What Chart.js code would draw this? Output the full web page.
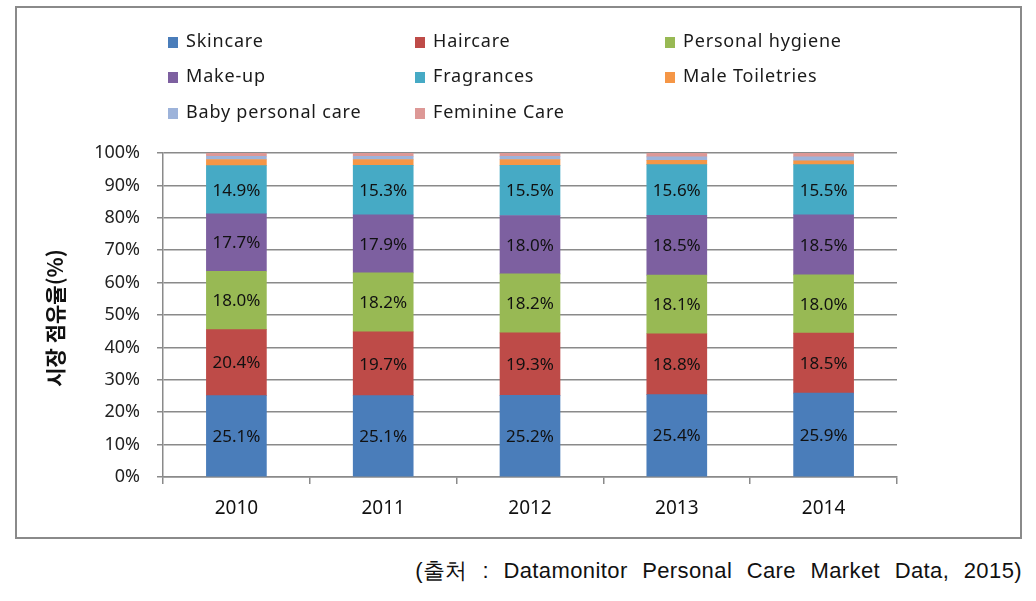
<!DOCTYPE html>
<html>
<head>
<meta charset="utf-8">
<script src="https://cdn.jsdelivr.net/npm/chart.js@4.4.1/dist/chart.umd.min.js"></script>
<style>
    body { margin: 0; background: #fff; }
    #box {
        position: absolute; left: 15px; top: 6px;
        width: 1003px; height: 529px;
        border: 2px solid #8a8a8a;
    }
    #source {
        position: absolute; right: 14px; top: 556px;
        font-family: "Liberation Sans", sans-serif; font-size: 22px; color: #111;
        word-spacing: 8px; letter-spacing: 0.4px;
    }
</style>
</head>
<body>
<div id="box"><canvas id="chart" width="1003" height="529"></canvas></div>
<div id="source">(출처 : Datamonitor Personal Care Market Data, 2015)</div>
<script>
// values, percent share per year
const years = ['2010', '2011', '2012', '2013', '2014'];
const skincare = [25.1, 25.1, 25.2, 25.4, 25.9];
const haircare = [20.4, 19.7, 19.3, 18.8, 18.5];
const hygiene = [18.0, 18.2, 18.2, 18.1, 18.0];
const makeup = [17.7, 17.9, 18.0, 18.5, 18.5];
const fragrances = [14.9, 15.3, 15.5, 15.6, 15.5];
const maleToiletries = [1.9, 1.8, 1.8, 1.3, 1.2];
const babyCare = [1.0, 1.0, 1.0, 1.1, 1.2];
const feminineCare = [1.0, 1.0, 1.0, 1.2, 1.2];
const yTicks = [0, 10, 20, 30, 40, 50, 60, 70, 80, 90, 100];

const FONT = "'Noto Sans', sans-serif";

function series(label, data, color, showLabel) {
    return {
        label: label,
        data: data,
        backgroundColor: color,
        borderWidth: 0,
        showLabel: showLabel,
        barThickness: 60
    };
}

// values inside the segments + custom 3-column legend + y title
const extras = {
    id: 'extras',
    afterDatasetsDraw(chart) {
        const ctx = chart.ctx;
        ctx.save();
        ctx.font = '17px ' + FONT;
        ctx.fillStyle = '#111';
        ctx.textAlign = 'center';
        ctx.textBaseline = 'middle';
        chart.data.datasets.forEach((ds, i) => {
            if (!ds.showLabel) return;
            chart.getDatasetMeta(i).data.forEach((bar, j) => {
                ctx.fillText(ds.data[j].toFixed(1) + '%', bar.x, (bar.y + bar.base) / 2 + 1);
            });
        });
        ctx.restore();
    },
    afterDraw(chart) {
        const ctx = chart.ctx;
        ctx.save();
        const cols = [151, 398, 648];
        const rows = [34, 69, 105];
        ctx.font = '18px ' + FONT;
        ctx.letterSpacing = '0.8px';
        ctx.textBaseline = 'middle';
        ctx.textAlign = 'left';
        chart.data.datasets.forEach((ds, i) => {
            const x = cols[i % 3];
            const y = rows[Math.floor(i / 3)];
            ctx.fillStyle = ds.backgroundColor;
            ctx.fillRect(x, y - 5, 10, 11);
            ctx.fillStyle = '#1a1a1a';
            ctx.fillText(ds.label, x + 18, y);
        });
        ctx.letterSpacing = '0px';
        // y axis title
        ctx.translate(38, 310);
        ctx.rotate(-Math.PI / 2);
        ctx.textAlign = 'center';
        ctx.font = "bold 21px 'Noto Sans CJK KR', sans-serif";
        ctx.fillStyle = '#111';
        ctx.fillText('시장 점유율(%)', 0, 0);
        ctx.restore();
    }
};

new Chart('chart', {
    type: 'bar',
    data: {
        labels: years,
        datasets: [
            series('Skincare', skincare, '#4a7dba', true),
            series('Haircare', haircare, '#be4b48', true),
            series('Personal hygiene', hygiene, '#98b954', true),
            series('Make-up', makeup, '#7d60a0', true),
            series('Fragrances', fragrances, '#46aac5', true),
            series('Male Toiletries', maleToiletries, '#f59646', false),
            series('Baby personal care', babyCare, '#9db3da', false),
            series('Feminine Care', feminineCare, '#dd9896', false)
        ]
    },
    options: {
        responsive: false,
        animation: false,
        layout: {
            padding: { top: 145, right: 123, bottom: 0, left: 0 }
        },
        plugins: {
            legend: { display: false },
            tooltip: { enabled: false }
        },
        scales: {
            x: {
                stacked: true,
                afterFit: function(scale) { scale.height = 60; },
                grid: {
                    drawOnChartArea: false,
                    offset: true,
                    tickLength: 7,
                    color: '#8a8a8a',
                    lineWidth: 1.5
                },
                border: { color: '#8a8a8a', width: 1.5 },
                ticks: {
                    color: '#111',
                    padding: 13,
                    font: { family: FONT, size: 19 }
                }
            },
            y: {
                stacked: true,
                min: 0,
                max: 100,
                afterFit: function(scale) { scale.width = 146; },
                afterBuildTicks: function(scale) {
                    scale.ticks = yTicks.map(v => ({ value: v }));
                },
                grid: {
                    color: '#8a8a8a',
                    lineWidth: 1.5,
                    tickLength: 6
                },
                border: { color: '#8a8a8a', width: 1.5 },
                ticks: {
                    color: '#222',
                    padding: 17,
                    font: { family: FONT, size: 18 },
                    callback: function(value) { return value + '%'; }
                }
            }
        }
    },
    plugins: [extras]
});
</script>
</body>
</html>
